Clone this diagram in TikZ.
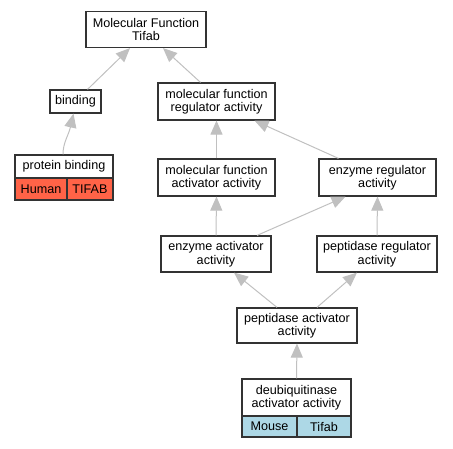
\documentclass[tikz,border=0pt]{standalone}
\usepackage{fontspec}
\setmainfont{Liberation Sans}
\usetikzlibrary{arrows.meta}
\definecolor{edgegray}{RGB}{192,192,192}
\definecolor{boxline}{RGB}{51,51,51}
\definecolor{humanred}{RGB}{255,99,71}
\definecolor{mouseblue}{RGB}{173,216,230}
\tikzset{
  term/.style={draw=boxline, line width=1.2pt, fill=white, inner sep=0pt, align=center,
    font=\fontsize{12.6}{13.5}\selectfont},
  cell/.style={draw=boxline, line width=1.2pt, inner sep=0pt, align=center,
    font=\fontsize{12.6}{13.5}\selectfont},
  isa/.style={draw=edgegray, line width=1pt, -{Triangle[length=14pt,width=12pt,fill=edgegray]}}
}
\begin{document}
\begin{tikzpicture}[x=1pt,y=-1pt]
\useasboundingbox (0,0) rectangle (453,448);
% nodes (center, width, height in px)
\node[term, minimum width=120pt, minimum height=36pt] (mf) at (146,29.5) {Molecular Function\\Tifab};
\node[term, minimum width=51pt, minimum height=23pt] (bind) at (75.5,101.5) {binding};
\node[term, minimum width=98pt, minimum height=23pt] (pb) at (64,166.5) {protein binding};
\node[cell, fill=humanred, minimum width=52pt, minimum height=22pt] (pbh) at (41,189) {Human};
\node[cell, fill=humanred, minimum width=46pt, minimum height=22pt] (pbt) at (90,189) {TIFAB};
\node[term, minimum width=117pt, minimum height=37pt] (mfra) at (216.5,101.5) {molecular function\\regulator activity};
\node[term, minimum width=117pt, minimum height=37pt] (mfaa) at (216.5,177.5) {molecular function\\activator activity};
\node[term, minimum width=117pt, minimum height=37pt] (era) at (377.5,177.5) {enzyme regulator\\activity};
\node[term, minimum width=110pt, minimum height=36pt] (eaa) at (216,254) {enzyme activator\\activity};
\node[term, minimum width=120pt, minimum height=36pt] (pra) at (377,254) {peptidase regulator\\activity};
\node[term, minimum width=120pt, minimum height=35pt] (paa) at (297,325.5) {peptidase activator\\activity};
\node[term, minimum width=109pt, minimum height=37pt] (daa) at (296.5,397.5) {deubiquitinase\\activator activity};
\node[cell, fill=mouseblue, minimum width=55pt, minimum height=21pt] (dm) at (269.5,426.5) {Mouse};
\node[cell, fill=mouseblue, minimum width=54pt, minimum height=21pt] (dt) at (324,426.5) {Tifab};
% edges
\draw[isa] ([xshift=12pt]bind.north) -- ([xshift=-16pt]mf.south);
\draw[isa] ([xshift=-16pt]mfra.north) -- ([xshift=17pt]mf.south);
\draw[isa] ([xshift=-1pt]pb.north) .. controls ++(0,-12) and ++(-5,22) .. ([xshift=-2pt]bind.south);
\draw[isa] (mfaa.north) -- (mfra.south);
\draw[isa] ([xshift=-39pt]era.north) -- ([xshift=38pt]mfra.south);
\draw[isa] (eaa.north) -- (mfaa.north |- mfaa.south);
\draw[isa] ([xshift=41pt]eaa.north) -- ([xshift=-32pt]era.south);
\draw[isa] (pra.north) -- (era.south);
\draw[isa] ([xshift=-20pt]paa.north) -- ([xshift=18pt]eaa.south);
\draw[isa] ([xshift=20pt]paa.north) -- ([xshift=-20pt]pra.south);
\draw[isa] (daa.north) -- (paa.south);
\end{tikzpicture}
\end{document}
